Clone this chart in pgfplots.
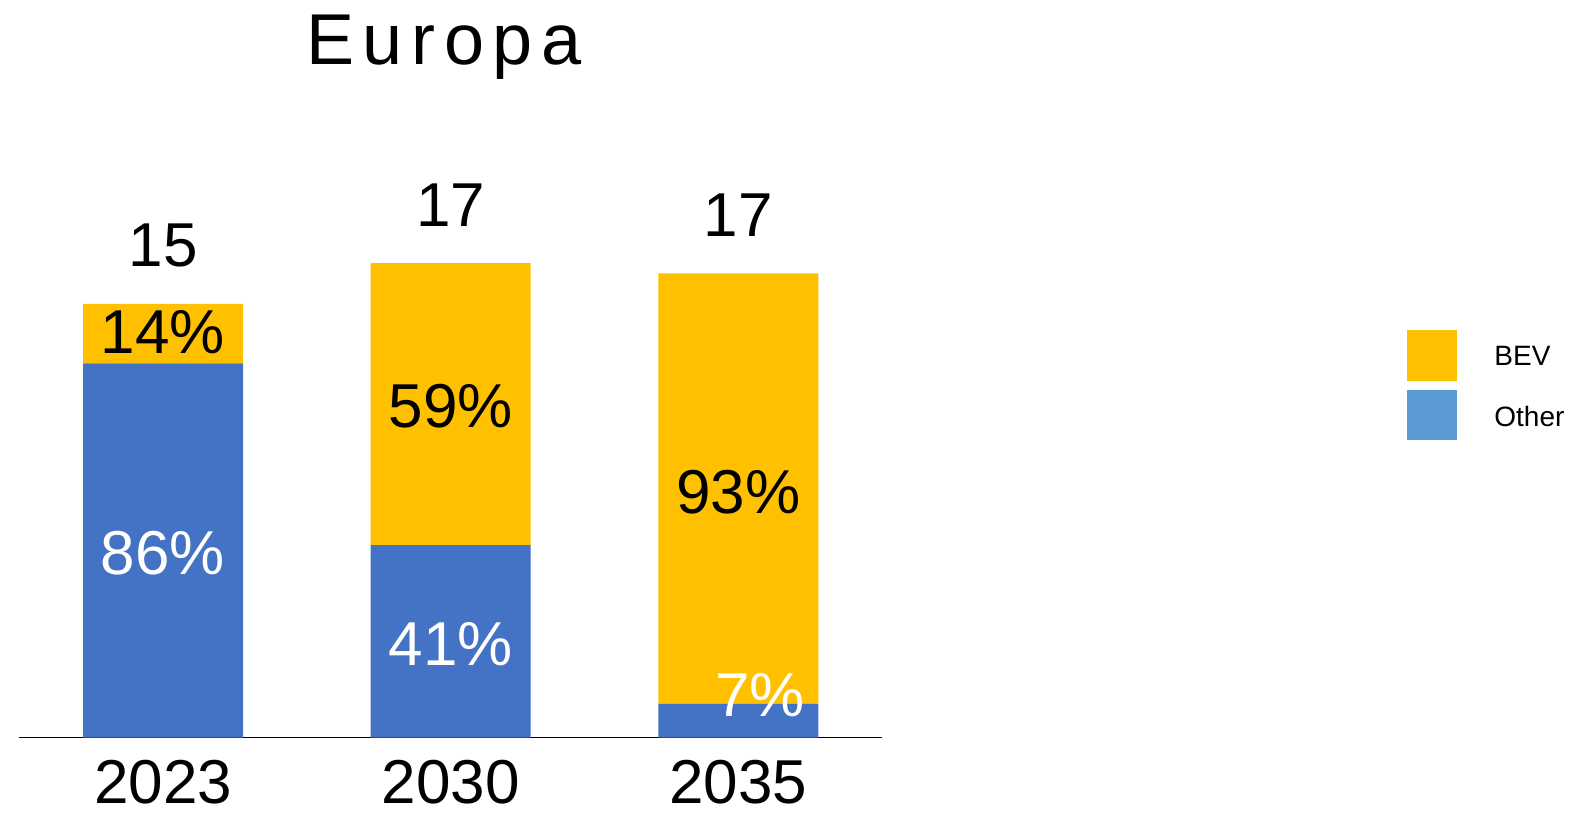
\documentclass[border=0pt]{standalone}
\usepackage{fontspec}
\setmainfont{Liberation Sans}
\usepackage{pgfplots}
\pgfplotsset{compat=1.18}
\definecolor{bevc}{HTML}{FFC000}
\definecolor{othc}{HTML}{4472C4}
\definecolor{othleg}{HTML}{5B9BD5}
\newcommand{\bigfnt}{\fontsize{31}{36}\selectfont}
\begin{document}
\begin{tikzpicture}[x=1pt,y=1pt]
\useasboundingbox (0,0) rectangle (794,407.5);
\begin{axis}[
  at={(9.6pt,38.65pt)}, anchor=south west,
  scale only axis, width=431.5pt, height=342pt,
  xmin=-0.5, xmax=2.5, ymin=0, ymax=24,
  ybar stacked, bar width=0.556,
  axis x line=bottom, axis y line=none,
  x axis line style={-, black, line width=0.75pt},
  xtick={0,1,2}, xticklabels={2023,2030,2035},
  major tick length=0pt,
  xticklabel style={font=\bigfnt, anchor=base, inner sep=0pt, yshift=-33pt},
  ytick=\empty,
  clip=false,
]
\addplot[fill=othc, draw=none] coordinates {(0,13.13) (1,6.76) (2,1.19)};
\addplot[fill=bevc, draw=none] coordinates {(0,2.09) (1,9.89) (2,15.10)};
\coordinate (t0) at (axis cs:0,15.22);
\coordinate (t1) at (axis cs:1,16.65);
\coordinate (t2) at (axis cs:2,16.29);
\coordinate (o0) at (axis cs:0,6.52);
\coordinate (b0) at (axis cs:0,14.27);
\coordinate (o1) at (axis cs:1,3.32);
\coordinate (b1) at (axis cs:1,11.67);
\coordinate (o2) at (axis cs:2,1.53);
\coordinate (b2) at (axis cs:2,8.65);
\end{axis}
% totals
\node[anchor=base, yshift=18.5pt, font=\bigfnt] at (t0) {15};
\node[anchor=base, yshift=18.5pt, font=\bigfnt] at (t1) {17};
\node[anchor=base, yshift=18.5pt, font=\bigfnt] at (t2) {17};
% shares
\node[anchor=base, yshift=-11.1pt, font=\bigfnt, text=white] at (o0) {86\%};
\node[anchor=base, yshift=-11.1pt, font=\bigfnt] at (b0) {14\%};
\node[anchor=base, yshift=-11.1pt, font=\bigfnt, text=white] at (o1) {41\%};
\node[anchor=base, yshift=-11.1pt, font=\bigfnt] at (b1) {59\%};
\node[anchor=base, yshift=-11.1pt, xshift=10.9pt, font=\bigfnt, text=white] at (o2) {7\%};
\node[anchor=base, yshift=-11.1pt, font=\bigfnt] at (b2) {93\%};
% title
\node[anchor=base, font=\fontsize{36}{40}\selectfont\addfontfeature{LetterSpace=12}] at (222,375) {Europa};
% legend
\fill[bevc] (703.5,217) rectangle (728.5,242.5);
\fill[othleg] (703.5,187.5) rectangle (728.5,212.5);
\node[anchor=base west, inner sep=0pt, font=\fontsize{14}{16}\selectfont] at (747,225) {BEV};
\node[anchor=base west, inner sep=0pt, font=\fontsize{14}{16}\selectfont] at (747,194.2) {Other};
\end{tikzpicture}
\end{document}
